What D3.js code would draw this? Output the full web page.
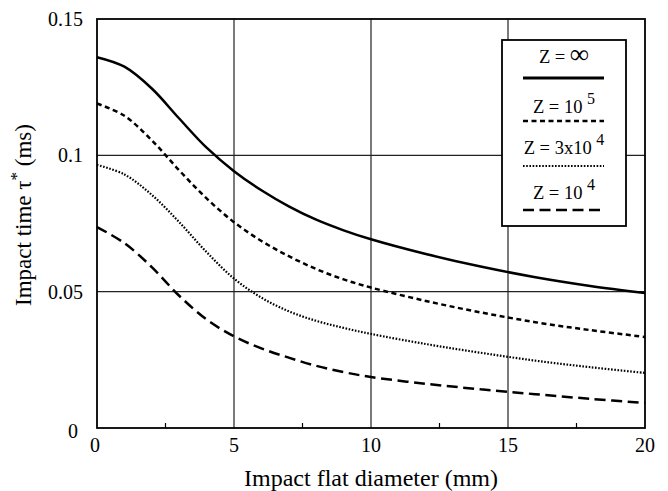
<!DOCTYPE html>
<html>
<head>
<meta charset="utf-8">
<script src="https://cdn.jsdelivr.net/npm/d3@7"></script>
<style>
  body { margin: 0; background: white; }
</style>
</head>
<body>
<svg id="chart"></svg>
<script>
var width = 668;
var height = 491;

// data
var diameters = [0, 1, 2, 3, 4, 5, 6, 7, 8, 9, 10, 12, 14, 16, 18, 20];
var zInf = [0.136, 0.1325, 0.1245, 0.1135, 0.1028, 0.0942, 0.0872, 0.0813, 0.0764, 0.0725, 0.0692, 0.0638, 0.0592, 0.0553, 0.0521, 0.0495];
var z1e5 = [0.119, 0.1145, 0.1055, 0.0945, 0.0842, 0.0755, 0.0686, 0.063, 0.0583, 0.0545, 0.0515, 0.0466, 0.0424, 0.0388, 0.0359, 0.0334];
var z3e4 = [0.0965, 0.093, 0.0855, 0.0755, 0.0645, 0.0548, 0.0478, 0.0428, 0.0393, 0.0367, 0.0345, 0.0308, 0.0276, 0.0247, 0.0223, 0.0202];
var z1e4 = [0.0737, 0.0678, 0.059, 0.0485, 0.0398, 0.0336, 0.0292, 0.0258, 0.0228, 0.0205, 0.0187, 0.0162, 0.0142, 0.0124, 0.0107, 0.0092];

var xTicks = [0, 5, 10, 15, 20];
var xMinorTicks = [2.5, 7.5, 12.5, 17.5];
var yTicks = [0, 0.05, 0.1, 0.15];

var seriesNames = ["Z = \u221e", "Z = 10^5", "Z = 3x10^4", "Z = 10^4"];
var seriesValues = [zInf, z1e5, z3e4, z1e4];
var seriesDash = [null, "5,3.5", "1.6,1.6", "11,5.5"];
var seriesWidth = [2.5, 2.5, 2.2, 2.5];

var margin = {left: 97, right: 23, top: 19, bottom: 63};
var serif = "'Liberation Serif', 'DejaVu Serif', serif";

var svg = d3.select("#chart")
  .attr("width", width)
  .attr("height", height);

var x = d3.scaleLinear().domain([0, 20]).range([margin.left, width - margin.right]);
var y = d3.scaleLinear().domain([0, 0.15]).range([height - margin.bottom, margin.top]);

var base = svg.append("g")
  .attr("font-family", serif)
  .attr("fill", "black");

//grid lines
xTicks.slice(1, -1).forEach(function (t) {
  base.append("line")
    .attr("x1", x(t)).attr("x2", x(t))
    .attr("y1", y(0)).attr("y2", y(0.15))
    .attr("stroke", "#222").attr("stroke-width", 1.2);
});
yTicks.slice(1, -1).forEach(function (t) {
  base.append("line")
    .attr("x1", x(0)).attr("x2", x(20))
    .attr("y1", y(t)).attr("y2", y(t))
    .attr("stroke", "#222").attr("stroke-width", 1.2);
});

//minor ticks on the bottom axis
xMinorTicks.forEach(function (t) {
  base.append("line")
    .attr("x1", x(t)).attr("x2", x(t))
    .attr("y1", y(0)).attr("y2", y(0) - 5)
    .attr("stroke", "black").attr("stroke-width", 1.2);
});

//curves
var line = d3.line()
  .x(function (d, i) { return x(diameters[i]); })
  .y(function (d) { return y(d); })
  .curve(d3.curveCatmullRom.alpha(0.5));

seriesValues.forEach(function (vals, i) {
  base.append("path")
    .attr("d", line(vals))
    .attr("fill", "none")
    .attr("stroke", "black")
    .attr("stroke-width", seriesWidth[i])
    .attr("stroke-dasharray", seriesDash[i]);
});

//frame
base.append("rect")
  .attr("x", x(0)).attr("y", y(0.15))
  .attr("width", x(20) - x(0)).attr("height", y(0) - y(0.15))
  .attr("fill", "none").attr("stroke", "black").attr("stroke-width", 1.8);

//tick labels
xTicks.forEach(function (t) {
  base.append("text")
    .text(t)
    .attr("font-size", "20px")
    .attr("text-anchor", "middle")
    .attr("x", x(t) - (t === 0 ? 2 : 0))
    .attr("y", y(0) + 24);
});
yTicks.forEach(function (t) {
  base.append("text")
    .text(t)
    .attr("font-size", "20px")
    .attr("text-anchor", "end")
    .attr("x", x(0) - 14 - (t === 0 ? 5 : 0))
    .attr("y", y(t) + (t === 0 ? 10 : 7));
});

//axis titles
base.append("text")
  .text("Impact flat diameter (mm)")
  .attr("font-size", "23px")
  .attr("text-anchor", "middle")
  .attr("textLength", 254)
  .attr("lengthAdjust", "spacingAndGlyphs")
  .attr("x", x(10))
  .attr("y", 486);

var yTitle = base.append("text")
  .attr("font-size", "23px")
  .attr("text-anchor", "middle")
  .attr("transform", "translate(31," + 215 + ") rotate(-90)");
yTitle.append("tspan").text("Impact time \u03c4");
yTitle.append("tspan").text("*").attr("font-size", "17px").attr("dy", -9);
yTitle.append("tspan").text(" (ms)").attr("dy", 9);

//legend
var legend = base.append("g");

legend.append("rect")
  .attr("x", 502).attr("y", 40)
  .attr("width", 124).attr("height", 186)
  .attr("fill", "white").attr("stroke", "black").attr("stroke-width", 1.8);

var legendTextY = [63, 113, 154, 199];
var legendLineY = [78, 121, 166, 210];

seriesNames.forEach(function (name, i) {
  var t = legend.append("text")
    .attr("font-size", "18.5px")
    .attr("text-anchor", "middle")
    .attr("x", 564)
    .attr("y", legendTextY[i]);
  var parts = name.split("^");
  if (i === 0) {
    t.append("tspan").text("Z =  ");
    t.append("tspan").text("\u221e").attr("font-size", "27px");
  } else {
    t.append("tspan").text(parts[0] + " ");
    t.append("tspan").text(parts[1]).attr("font-size", "16px").attr("dy", -9);
  }

  legend.append("line")
    .attr("x1", 523).attr("x2", 604)
    .attr("y1", legendLineY[i]).attr("y2", legendLineY[i])
    .attr("stroke", "black")
    .attr("stroke-width", seriesWidth[i] + (i === 0 ? 0.6 : 0))
    .attr("stroke-dasharray", seriesDash[i]);
});
</script>
</body>
</html>
